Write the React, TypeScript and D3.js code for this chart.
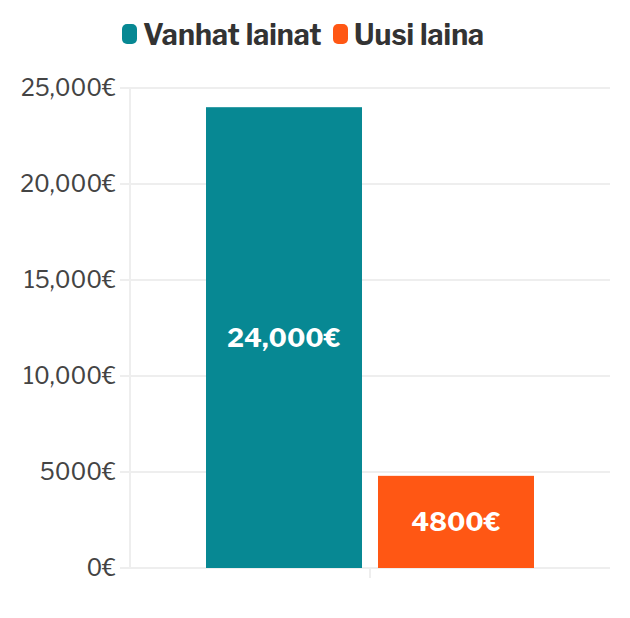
import React, { useRef, useEffect } from 'react';
import * as d3 from 'd3';

const categories = ['Lainat'];
const seriesNames = ['Vanhat lainat', 'Uusi laina'];
const seriesValues = [24000, 4800];
const seriesColors = ['#078893', '#ff5714'];
const yTicks = [0, 5000, 10000, 15000, 20000, 25000];

const fmt = (v: number) => (v >= 10000 ? d3.format(',')(v) : String(v)) + '€';

const App: React.FC = () => {
  const svgRef = useRef<SVGSVGElement>(null);

  useEffect(() => {
    if (!svgRef.current) return;
    const svg = d3.select(svgRef.current);
    svg.selectAll('*').remove();

    const left = 130, right = 610, top = 88, bottom = 568;
    const font = "'Libre Franklin', 'Open Sans', sans-serif";

    const y = d3.scaleLinear().domain([0, 25000]).range([bottom, top]);
    const x0 = d3.scaleBand().domain(categories).range([left, right]).paddingInner(0).paddingOuter(0.2317);
    const x1 = d3.scaleBand().domain(seriesNames).range([0, x0.bandwidth()]).paddingInner(0.093).paddingOuter(0);

    // grid
    svg.append('g')
      .selectAll('line')
      .data(yTicks)
      .join('line')
      .attr('x1', left - 10)
      .attr('x2', right)
      .attr('y1', d => y(d))
      .attr('y2', d => y(d))
      .attr('stroke', '#eeeeee')
      .attr('stroke-width', 2);

    svg.append('line')
      .attr('x1', left).attr('x2', left)
      .attr('y1', top).attr('y2', bottom)
      .attr('stroke', '#eeeeee').attr('stroke-width', 2);

    // category tick
    const cx = (x0(categories[0]) as number) + x0.bandwidth() / 2;
    svg.append('line')
      .attr('x1', cx).attr('x2', cx)
      .attr('y1', bottom).attr('y2', bottom + 10)
      .attr('stroke', '#eeeeee').attr('stroke-width', 2);

    // y labels
    svg.append('g')
      .selectAll('text')
      .data(yTicks)
      .join('text')
      .attr('x', 116)
      .attr('y', d => y(d))
      .attr('dy', '0.35em')
      .attr('text-anchor', 'end')
      .style('font-family', font)
      .style('font-size', '23px')
      .style('fill', '#444')
      .text(d => fmt(d));

    // bars
    const gx = x0(categories[0]) as number;
    seriesNames.forEach((name, i) => {
      const bx = gx + (x1(name) as number);
      const v = seriesValues[i];
      svg.append('rect')
        .attr('x', bx)
        .attr('y', y(v))
        .attr('width', x1.bandwidth())
        .attr('height', y(0) - y(v))
        .attr('fill', seriesColors[i]);
      svg.append('text')
        .attr('x', bx + x1.bandwidth() / 2)
        .attr('y', (y(v) + y(0)) / 2)
        .attr('dy', '0.35em')
        .attr('text-anchor', 'middle')
        .style('font-family', font)
        .style('font-size', '26px')
        .style('font-weight', 'bold')
        .style('fill', '#fff')
        .text(fmt(v));
    });

    // legend
    const legendX = [122, 333];
    seriesNames.forEach((name, i) => {
      const g = svg.append('g').attr('transform', `translate(${legendX[i]}, 0)`);
      g.append('rect')
        .attr('x', 0).attr('y', 24)
        .attr('width', 15).attr('height', 20)
        .attr('rx', 5)
        .attr('fill', seriesColors[i]);
      g.append('text')
        .attr('x', 21).attr('y', 45)
        .style('font-family', font)
        .style('font-size', '28.5px')
        .style('font-weight', 'bold')
        .style('fill', '#333')
        .text(name);
    });
  }, []);

  return (
    <svg ref={svgRef} width={630} height={618} style={{ position: 'absolute', left: 0, top: 0 }} />
  );
};

export default App;
